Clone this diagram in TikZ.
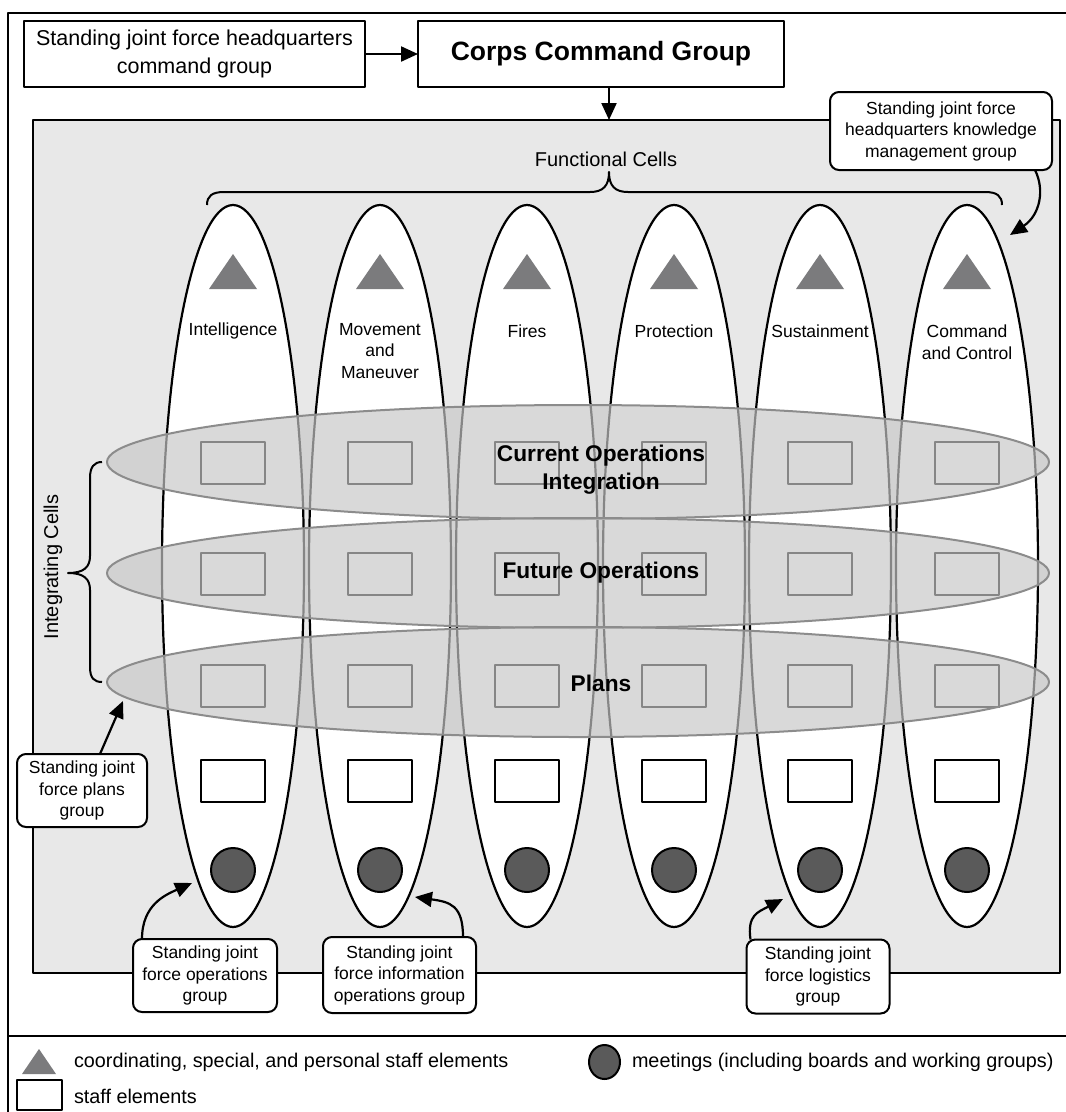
\documentclass[tikz,border=0pt]{standalone}
\usepackage{fontspec}
\setmainfont{Liberation Sans}
\usetikzlibrary{arrows.meta,shapes.geometric,calc}

\definecolor{panelgray}{HTML}{E8E8E8}
\definecolor{elemgray}{HTML}{7B7B7D}
\definecolor{meetgray}{HTML}{5A5A5A}
\definecolor{bandfill}{HTML}{C8C8C8}
\definecolor{bandline}{HTML}{8C8C8C}

\newcommand\setfs[2]{\fontsize{#1}{#2}\selectfont}

\begin{document}
\begin{tikzpicture}[x=1pt,y=-1pt,line join=round,
  every node/.style={inner sep=0pt,outer sep=0pt},
  frameline/.style={line width=2pt,draw=black},
  panelbox/.style={rectangle,draw=black,line width=2pt,fill=panelgray},
  topbox/.style={rectangle,draw=black,line width=2pt,fill=white,align=center},
  vcell/.style={ellipse,draw=black,line width=2.2pt,fill=white,minimum width=142pt,minimum height=722pt},
  hband/.style={ellipse,draw=bandline,line width=2pt,fill=bandfill,fill opacity=0.675,minimum width=942pt},
  staffbox/.style={rectangle,draw=black,line width=2pt,fill=white,minimum width=64pt,minimum height=42pt},
  meeting/.style={circle,draw=black,line width=2pt,fill=meetgray,minimum size=44pt},
  celllabel/.style={align=center,font=\setfs{17.5}{21.5}},
  bandlabel/.style={align=center,font=\bfseries\setfs{22.7}{28}},
  callout/.style={rectangle,rounded corners=9pt,draw=black,line width=2pt,fill=white,align=center,font=\setfs{17.5}{21.5}},
  grouplabel/.style={font=\setfs{20}{24}},
  legendtext/.style={anchor=west,font=\setfs{19.8}{24}},
  bracepath/.style={line width=2pt,draw=black},
  arr/.style={line width=2.2pt,-{Triangle[length=17pt,width=15pt]}}]

\useasboundingbox (0,0) rectangle (1066,1112);
\fill[white] (0,0) rectangle (1066,1112);

% outer frame and legend separator
\draw[frameline] (8,1120) -- (8,13) -- (1075,13);
\draw[frameline] (8,1036) -- (1075,1036);

% headquarters boxes
\node[topbox,minimum width=341pt,minimum height=66pt,font=\setfs{21.5}{28}] (sjhq) at (194.5,54)
  {Standing joint force headquarters\\command group};
\node[topbox,minimum width=366pt,minimum height=66pt,font=\bfseries\setfs{26.5}{30}] (corps) at (601,54)
  {Corps Command Group};

% staff panel
\node[panelbox,minimum width=1027pt,minimum height=853pt] (panel) at (546.5,546.5) {};

\draw[arr] (sjhq) -- (corps);
\draw[arr] ([xshift=8pt]corps.south) -- ([xshift=8pt]corps.south |- panel.north);

% functional cells brace
\draw[bracepath] (207,205) .. controls (207,196) and (212,192) .. (224,192) -- (590,192)
  .. controls (603,192) and (609,186) .. (609,172)
  .. controls (609,186) and (615,192) .. (628,192) -- (985,192)
  .. controls (997,192) and (1002,196) .. (1002,205);
\node[grouplabel] (fclabel) at (606,159) {Functional Cells};

% integrating cells brace
\draw[bracepath] (102,462) .. controls (94,462) and (90,467) .. (90,478) -- (90,556)
  .. controls (90,567) and (84,573) .. (68,573)
  .. controls (84,573) and (90,579) .. (90,590) -- (90,667)
  .. controls (90,678) and (94,682) .. (102,682);
\node[grouplabel,rotate=90] (iclabel) at (53,567) {Integrating Cells};

% functional cells
\foreach \i/\x in {1/233,2/380,3/527,4/674,5/820,6/967}{
  \node[vcell] (v\i) at (\x,566) {};
  \fill[elemgray] (\x,254) -- ({\x+24},289) -- ({\x-24},289) -- cycle;
  \node[staffbox] (s\i a) at (\x,463) {};
  \node[staffbox] (s\i b) at (\x,574) {};
  \node[staffbox] (s\i c) at (\x,686) {};
  \node[staffbox] (s\i d) at (\x,781) {};
  \node[meeting] (m\i) at (\x,870) {};
}
\node[celllabel] (l1) at (233,331) {Intelligence};
\node[celllabel] (l2) at (380,351) {Movement\\and\\Maneuver};
\node[celllabel] (l3) at (527,331) {Fires};
\node[celllabel] (l4) at (674,331) {Protection};
\node[celllabel] (l5) at (820,331) {Sustainment};
\node[celllabel] (l6) at (967,342) {Command\\and Control};

% integrating cells
\node[hband,minimum height=114pt] (h1) at (578,462) {};
\node[hband,minimum height=110pt] (h2) at (578,573) {};
\node[hband,minimum height=110pt] (h3) at (578,682) {};
\node[bandlabel] (hl1) at (601,470) {Current Operations\\Integration};
\node[bandlabel] (hl2) at (601,573) {Future Operations};
\node[bandlabel] (hl3) at (601,683) {Plans};

% standing joint force groups
\node[callout,minimum width=222pt,minimum height=78pt] (km) at (941,131)
  {Standing joint force\\headquarters knowledge\\management group};
\node[callout,minimum width=130pt,minimum height=73pt] (pl) at (82,790.5)
  {Standing joint\\force plans\\group};
\node[callout,minimum width=144pt,minimum height=73pt] (ops) at (205,975.5)
  {Standing joint\\force operations\\group};
\node[callout,minimum width=153pt,minimum height=76pt] (io) at (399.5,975)
  {Standing joint\\force information\\operations group};
\node[callout,minimum width=143pt,minimum height=74pt] (lg) at (818,976.5)
  {Standing joint\\force logistics\\group};

\coordinate (kmT) at (1010,235);
\coordinate (plT) at (123,701);
\coordinate (opT) at (192,883);
\coordinate (ioT) at (415,897);
\coordinate (lgT) at (783,899);

\draw[arr] ([xshift=-17pt]km.south east) .. controls (1045,190) and (1040,215) .. (kmT);
\draw[arr] ([xshift=18pt]pl.north) -- (plT);
\draw[arr] ([xshift=9pt]ops.north west) .. controls (142,905) and (165,895) .. (opT);
\draw[arr] ([xshift=-13pt]io.north east) .. controls (463,905) and (450,902) .. (ioT);
\draw[arr] ([xshift=4pt]lg.north west) .. controls (747,915) and (758,912) .. (lgT);

% legend
\fill[elemgray] (39,1049) -- (56,1074) -- (22,1074) -- cycle;
\node[rectangle,draw=black,line width=2pt,fill=white,minimum width=45pt,minimum height=30pt] (keybox) at (39.5,1095) {};
\node[ellipse,draw=black,line width=2pt,fill=meetgray,minimum width=31pt,minimum height=34pt] (keymeet) at (604.5,1062) {};
\node[legendtext] (k1) at (74,1062) {coordinating, special, and personal staff elements};
\node[legendtext] (k2) at (74,1096) {staff elements};
\node[legendtext] (k3) at (632,1062) {meetings (including boards and working groups)};

\end{tikzpicture}
\end{document}
